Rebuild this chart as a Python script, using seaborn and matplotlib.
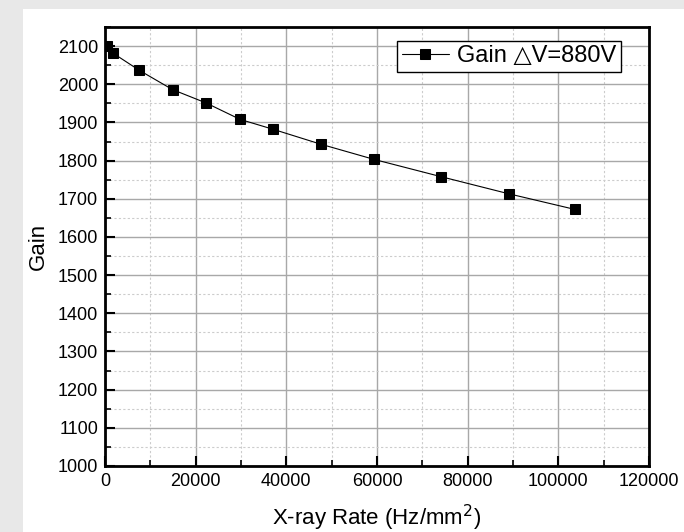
import matplotlib
matplotlib.use("Agg")
import matplotlib.pyplot as plt
import seaborn as sns
import pandas as pd
from matplotlib.ticker import MultipleLocator
from matplotlib.patches import Rectangle

rate = [500, 1700, 7500, 14900, 22300, 29800, 37100, 47600, 59400, 74100, 89100, 103700]
gain = [2100, 2082, 2037, 1986, 1951, 1908, 1882, 1843, 1803, 1758, 1713, 1672]
series_label = "Gain \u25b3V=880V"

df = pd.DataFrame({"rate": rate, "gain": gain})

sns.set_theme(style="white")
plt.rcParams['font.family'] = ['Liberation Sans', 'DejaVu Sans']
plt.rcParams['text.color'] = 'black'
plt.rcParams['axes.labelcolor'] = 'black'
plt.rcParams['xtick.color'] = 'black'
plt.rcParams['ytick.color'] = 'black'

fig = plt.figure(figsize=(6.84, 5.32), dpi=100)
fig.patch.set_facecolor("#e8e8e8")
fig.patches.append(Rectangle((23/684, 0), 1 - 23/684, (532-9)/532, transform=fig.transFigure,
                             facecolor="white", edgecolor="none", zorder=-10))
ax = fig.add_axes([105/684, 66/532, 544/684, 439/532])
ax.set_zorder(1)
ax.set_facecolor("white")

sns.lineplot(data=df, x="rate", y="gain", ax=ax, color="black", linewidth=0.8,
             marker="s", markersize=7.5, markeredgecolor="black", markerfacecolor="black",
             label=series_label, zorder=5)

ax.set_xlim(0, 120000)
ax.set_ylim(1000, 2150)
ax.xaxis.set_major_locator(MultipleLocator(20000))
ax.xaxis.set_minor_locator(MultipleLocator(10000))
ax.yaxis.set_major_locator(MultipleLocator(100))
ax.yaxis.set_minor_locator(MultipleLocator(50))
ax.set_yticks(range(1000, 2101, 100))

ax.grid(which="major", color="#a8a8a8", linestyle="-", linewidth=1.0)
ax.grid(which="minor", color="#cccccc", linestyle=(0, (2, 2)), linewidth=0.8)
ax.set_axisbelow(True)

for s in ax.spines.values():
    s.set_color("black")
    s.set_linewidth(2)

ax.tick_params(which="major", direction="in", length=7, width=1.5, color="black",
               labelsize=13, labelcolor="black", bottom=True, left=True, top=False, right=False, pad=5)
ax.tick_params(which="minor", direction="in", length=4, width=1.2, color="black",
               bottom=True, left=True, top=False, right=False)

ax.set_xlabel("X-ray Rate (Hz/mm$^2$)", fontsize=16, labelpad=9, color="black")
ax.set_ylabel("Gain", fontsize=16, labelpad=6, color="black")

leg = ax.legend(loc="upper right", bbox_to_anchor=(0.949, 0.969), fontsize=17,
                frameon=True, fancybox=False, edgecolor="black", framealpha=1,
                handlelength=2.0, handletextpad=0.35, borderpad=0.2, borderaxespad=0)
leg.get_frame().set_linewidth(1.0)
for t in leg.get_texts():
    t.set_color("black")

fig.savefig("out.png", dpi=100, facecolor=fig.get_facecolor())
